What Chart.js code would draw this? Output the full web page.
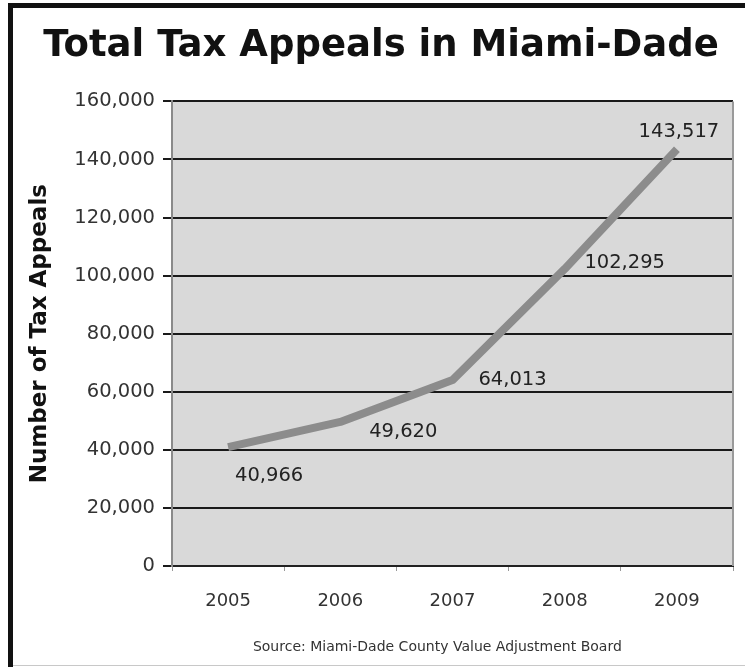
<!DOCTYPE html>
<html>
<head>
<meta charset="utf-8">
<script src="https://cdn.jsdelivr.net/npm/chart.js@4/dist/chart.umd.min.js"></script>
<style>
    body { margin: 0; background: #fff; }
    canvas { display: block; }
</style>
</head>
<body>
<canvas id="appealsChart" width="745" height="667"></canvas>
<script>
// Chart data
const years = ['2005', '2006', '2007', '2008', '2009'];
const appeals = [40966, 49620, 64013, 102295, 143517];
const yMin = 0;
const yMax = 160000;
const yStep = 20000;

const chartTitle = 'Total Tax Appeals in Miami-Dade';
const yAxisTitle = 'Number of Tax Appeals';
const sourceNote = 'Source: Miami-Dade County Value Adjustment Board';

// Where each value label sits relative to its point (dx, dy in pixels)
const labelOffsets = [[41, 29], [63, 10], [60, 0], [60, -6], [2, -17]];

const fontFamily = '"DejaVu Sans", Verdana, sans-serif';

// Frame around the picture + grey plot background
const framePlugin = {
    id: 'frame',
    beforeDraw(chart) {
        const ctx = chart.ctx;
        const a = chart.chartArea;
        ctx.save();
        ctx.fillStyle = '#ffffff';
        ctx.fillRect(0, 0, chart.width, chart.height);
        ctx.fillStyle = '#111111';
        ctx.fillRect(8, 3, chart.width - 8, 5);   // top bar
        ctx.fillRect(8, 3, 5, chart.height - 3);  // left bar
        ctx.fillStyle = '#c8c8c8';
        ctx.fillRect(13, chart.height - 2, chart.width - 13, 1); // bottom line
        ctx.fillStyle = '#d9d9d9';
        ctx.fillRect(a.left, a.top, a.right - a.left, a.bottom - a.top);
        ctx.restore();
    },
    afterDraw(chart) {
        const ctx = chart.ctx;
        const a = chart.chartArea;
        ctx.save();
        // right edge of the plot
        ctx.strokeStyle = '#9a9a9a';
        ctx.lineWidth = 2;
        ctx.beginPath();
        ctx.moveTo(a.right, a.top);
        ctx.lineTo(a.right, a.bottom);
        ctx.stroke();
        // source note
        ctx.fillStyle = '#333333';
        ctx.font = '14px ' + fontFamily;
        ctx.textAlign = 'center';
        ctx.textBaseline = 'middle';
        ctx.fillText(sourceNote, a.left + (a.right - a.left) * 0.473, chart.height - 20);
        ctx.restore();
    }
};

// Value labels next to the points
const valueLabelPlugin = {
    id: 'valueLabels',
    afterDatasetsDraw(chart) {
        const ctx = chart.ctx;
        const meta = chart.getDatasetMeta(0);
        ctx.save();
        ctx.fillStyle = '#222222';
        ctx.font = '19.5px ' + fontFamily;
        ctx.textAlign = 'center';
        ctx.textBaseline = 'middle';
        meta.data.forEach((pt, i) => {
            const off = labelOffsets[i] || [0, 0];
            ctx.fillText(appeals[i].toLocaleString('en-US'), pt.x + off[0], pt.y + off[1]);
        });
        ctx.restore();
    }
};

const ctx = document.getElementById('appealsChart').getContext('2d');
const appealsChart = new Chart(ctx, {
    type: 'line',
    data: {
        labels: years,
        datasets: [{
            label: 'Tax Appeals',
            data: appeals,
            borderColor: '#8c8c8c',
            borderWidth: 8,
            borderCapStyle: 'butt',
            borderJoinStyle: 'round',
            pointRadius: 0,
            tension: 0,
            fill: false
        }]
    },
    options: {
        responsive: false,
        animation: false,
        devicePixelRatio: 1,
        layout: {
            padding: { left: 29, right: 12, top: 0, bottom: 0 }
        },
        plugins: {
            legend: { display: false },
            tooltip: { enabled: false },
            title: {
                display: true,
                text: chartTitle,
                color: '#111111',
                font: { family: fontFamily, size: 37, weight: 'bold', lineHeight: 1.2 },
                padding: { top: 24, bottom: 33 }
            }
        },
        scales: {
            x: {
                offset: true,
                grid: {
                    offset: true,
                    drawOnChartArea: false,
                    tickLength: 5,
                    color: '#999999',
                    lineWidth: 1
                },
                border: { display: true, color: '#222222', width: 2 },
                ticks: {
                    color: '#333333',
                    font: { family: fontFamily, size: 18 },
                    padding: 20,
                    maxRotation: 0
                },
                afterFit: function(scale) {
                    scale.height = 101;
                }
            },
            y: {
                min: yMin,
                max: yMax,
                grid: {
                    color: '#1a1a1a',
                    lineWidth: 2,
                    tickLength: 9
                },
                border: { display: true, color: '#8a8a8a', width: 2 },
                ticks: {
                    stepSize: yStep,
                    color: '#333333',
                    font: { family: fontFamily, size: 19.5 },
                    padding: 8,
                    callback: function(value) {
                        return value.toLocaleString('en-US');
                    }
                },
                title: {
                    display: true,
                    text: yAxisTitle,
                    color: '#111111',
                    font: { family: fontFamily, size: 23, weight: 'bold', lineHeight: 1.2 },
                    padding: { top: -3, bottom: 0 }
                },
                afterFit: function(scale) {
                    scale.width = 143;
                }
            }
        }
    },
    plugins: [framePlugin, valueLabelPlugin]
});
</script>
</body>
</html>
